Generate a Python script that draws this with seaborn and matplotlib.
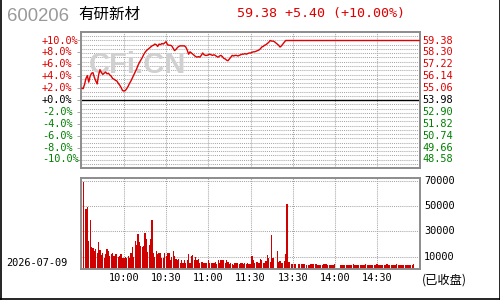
import numpy as np
import pandas as pd
import matplotlib
matplotlib.use("Agg")
import matplotlib.pyplot as plt
import matplotlib.transforms as mtransforms
from matplotlib.lines import Line2D
import seaborn as sns

# ---------------- data ----------------
code = "600206"
name = "有研新材"
price_text = "59.38 +5.40 (+10.00%)"
date_text = "2026-07-09"
status_text = "(已收盘)"

pct_ticks = [10, 8, 6, 4, 2, 0, -2, -4, -6, -8, -10]
pct_labels = ["+10.0%", "+8.0%", "+6.0%", "+4.0%", "+2.0%", "+0.0%",
              "-2.0%", "-4.0%", "-6.0%", "-8.0%", "-10.0%"]
price_labels = ["59.38", "58.30", "57.22", "56.14", "55.06", "53.98",
                "52.90", "51.82", "50.74", "49.66", "48.58"]
vol_ticks = [10000, 30000, 50000, 70000]
vol_labels = ["10000", "30000", "50000", "70000"]
time_ticks = [30, 60, 90, 120, 150, 180, 210]
time_labels = ["10:00", "10:30", "11:00", "11:30", "13:30", "14:00", "14:30"]

# percent change vs previous close, one value per minute (0 = 9:30 ... 240 = 15:00)
pct_change = [
    2.0, 1.9, 2.6, 3.6, 4.1, 3.0, 4.0, 4.5, 4.6, 3.8,
    3.2, 2.7, 4.2, 5.1, 4.6, 4.3, 4.5, 4.7, 4.4, 4.5,
    4.2, 4.0, 3.6, 3.5, 3.3, 3.2, 2.8, 2.5, 2.1, 1.6,
    1.5, 1.6, 1.9, 2.3, 2.8, 3.2, 3.7, 4.2, 4.7, 5.2,
    5.8, 6.3, 6.7, 7.1, 7.6, 8.0, 8.3, 8.5, 8.7, 8.9,
    9.1, 9.2, 9.4, 9.3, 9.0, 9.4, 9.3, 9.5, 9.4, 9.6,
    9.8, 9.3, 9.2, 9.2, 9.1, 8.7, 8.3, 8.5, 8.8, 9.0,
    9.1, 9.1, 9.1, 9.1, 8.9, 8.4, 7.7, 8.1, 7.9, 7.7,
    7.5, 7.3, 7.2, 7.3, 7.2, 7.5, 7.9, 7.6, 7.5, 7.5,
    7.6, 7.7, 7.6, 7.5, 7.6, 7.5, 7.3, 7.2, 7.4, 7.5,
    7.3, 7.0, 6.9, 6.7, 6.6, 6.9, 7.2, 7.5, 7.4, 7.5,
    7.5, 7.4, 7.5, 7.6, 7.7, 7.7, 7.8, 7.7, 7.8, 7.9,
    7.9, 8.0, 8.1, 8.1, 8.2, 8.3, 8.4, 8.6, 8.9, 9.0,
    9.2, 9.3, 9.5, 9.7, 10.0, 9.9, 9.9, 9.8, 9.6, 9.4,
    9.2, 8.9, 9.1, 9.4, 9.7, 10.0, 10.0, 10.0, 10.0, 10.0,
    10.0, 10.0, 10.0, 10.0, 10.0, 10.0, 10.0, 10.0, 10.0, 10.0,
    10.0, 10.0, 10.0, 10.0, 10.0, 10.0, 10.0, 10.0, 10.0, 10.0,
    10.0, 10.0, 10.0, 10.0, 10.0, 10.0, 10.0, 10.0, 10.0, 10.0,
    10.0, 10.0, 10.0, 10.0, 10.0, 10.0, 10.0, 10.0, 10.0, 10.0,
    10.0, 10.0, 10.0, 10.0, 10.0, 10.0, 10.0, 10.0, 10.0, 10.0,
    10.0, 10.0, 10.0, 10.0, 10.0, 10.0, 10.0, 10.0, 10.0, 10.0,
    10.0, 10.0, 10.0, 10.0, 10.0, 10.0, 10.0, 10.0, 10.0, 10.0,
    10.0, 10.0, 10.0, 10.0, 10.0, 10.0, 10.0, 10.0, 10.0, 10.0,
    10.0, 10.0, 10.0, 10.0, 10.0, 10.0, 10.0, 10.0, 10.0, 10.0,
    10.0,
]

volume = [
    13900, 68800, 0, 47500, 49500, 22600, 39000, 17400, 16600, 14700,
    15800, 12700, 21800, 15300, 11300, 12700, 9200, 12100, 16100, 14700,
    10500, 12100, 12700, 10800, 12100, 12100, 10000, 10800, 12100, 9200,
    8700, 10000, 9200, 10500, 9200, 13100, 17400, 9500, 22600, 19200,
    27900, 21600, 18400, 17900, 18400, 28500, 24000, 13500, 19200, 24000,
    39000, 12700, 9500, 14500, 12100, 12700, 12700, 8700, 8700, 12700,
    10500, 12700, 12700, 7400, 9500, 14500, 10500, 7900, 7400, 7900,
    5200, 7700, 5200, 7700, 5200, 7700, 12100, 5200, 10500, 11300,
    7400, 9500, 7400, 7900, 4700, 6000, 6000, 5200, 4700, 5200,
    7400, 4700, 4700, 5200, 5200, 6000, 4000, 7400, 5200, 7400,
    7400, 7400, 5200, 7400, 6000, 4000, 5200, 4000, 3400, 4700,
    4700, 4700, 4000, 4700, 5200, 4000, 4700, 4000, 4700, 4000,
    4000, 10500, 7400, 5200, 5500, 6000, 5200, 7900, 7700, 4700,
    4700, 6600, 11300, 8700, 6000, 27100, 8700, 0, 0, 14500,
    6000, 6600, 5200, 4700, 6600, 12100, 51700, 5500, 5500, 4000,
    4000, 4000, 4000, 0, 4000, 4500, 4000, 4000, 4000, 0,
    3500, 3500, 3500, 4500, 4000, 4000, 4000, 4500, 3500, 3500,
    3500, 3500, 4500, 4000, 4000, 3500, 3500, 3500, 3500, 3500,
    4500, 0, 0, 0, 3500, 3500, 3500, 3500, 3500, 3500,
    3500, 3500, 3500, 4500, 3500, 3500, 3500, 3500, 3500, 3500,
    3500, 3500, 4500, 3500, 3500, 3500, 3500, 3500, 3500, 3500,
    4500, 3500, 3500, 3500, 3500, 3500, 3500, 4500, 3500, 3500,
    3500, 3500, 3500, 3500, 4500, 3500, 3500, 3500, 3500, 3500,
    3500, 3500, 3500, 3500, 3500, 3500, 4500, 0, 0, 0,
    0,
]

minutes = list(range(len(pct_change)))

# ---------------- style ----------------
sns.set_theme(style="white")
plt.rcParams["font.family"] = ["DejaVu Sans Mono", "Noto Sans CJK SC"]

RED = "#e00000"
GREEN = "#008000"
GRID = "#a8a8a8"
SPINE = "#8c8c8c"

fig = plt.figure(figsize=(5, 3), dpi=100)
fig.patch.set_facecolor("white")

W, H = 500.0, 300.0
def fx(px):
    return px / W
def fy(py):
    return 1 - py / H

ax1 = fig.add_axes([fx(81), fy(168), (420 - 81) / W, (168 - 32) / H])
ax2 = fig.add_axes([fx(81), fy(269.3), (420 - 81) / W, (269.3 - 178.3) / H])

xlim = (-0.5, 240.5)
ymax = 80 / 7.0

# ---------- upper panel: price line ----------
for k in range(-15, 16):
    if k != 0:
        ax1.axhline(k * 5 / 7.0, color=GRID, lw=0.75, ls=(0, (1, 1)), zorder=0.6)
for t in time_ticks:
    ax1.axvline(t, color=GRID, lw=0.75, ls=(0, (1, 1)), zorder=0.6)
ax1.axhline(0, color="black", lw=1.0, zorder=1.5)

ax1.text(fx(137), fy(65), "CFi.CN", transform=fig.transFigure, ha="center",
         va="center", fontsize=21, fontweight="bold", family="Liberation Sans",
         color="#d0d0d0", zorder=0.7)

df_price = pd.DataFrame({"minute": minutes, "pct": pct_change})
sns.lineplot(data=df_price, x="minute", y="pct", ax=ax1, color=RED,
             linewidth=1.0, zorder=3)

ax1.set_xlim(*xlim)
ax1.set_ylim(-ymax, ymax)
ax1.set_xlabel("")
ax1.set_ylabel("")
ax1.set_xticks([])
ax1.set_yticks(pct_ticks)
ax1.set_yticklabels([])
ax1.tick_params(axis="y", length=3.2, width=0.7, color=GRID, left=True)

tl = mtransforms.blended_transform_factory(fig.transFigure, ax1.transData)
for v, lab, pl in zip(pct_ticks, pct_labels, price_labels):
    c = RED if v > 0 else (GREEN if v < 0 else "black")
    ax1.text(fx(42), v, lab, transform=tl, ha="left", va="center",
             fontsize=7.4, color=c, clip_on=False)
    ax1.text(fx(422), v, pl, transform=tl, ha="left", va="center",
             fontsize=7.4, color=c, clip_on=False)

# ---------- lower panel: volume ----------
for v in vol_ticks:
    ax2.axhline(v, color=GRID, lw=0.75, ls=(0, (1, 1)), zorder=0.6)
for t in time_ticks:
    ax2.axvline(t, color=GRID, lw=0.75, ls=(0, (1, 1)), zorder=0.6)

df_vol = pd.DataFrame({"minute": minutes, "volume": volume})
sns.barplot(data=df_vol, x="minute", y="volume", ax=ax2, native_scale=True,
            color="#d00000", saturation=1, width=0.85, linewidth=0, zorder=2)

ax2.set_xlim(*xlim)
ax2.set_ylim(0, 72000)
ax2.set_xlabel("")
ax2.set_ylabel("")
ax2.set_yticks([])
ax2.set_xticks([])

tv = mtransforms.blended_transform_factory(fig.transFigure, ax2.transData)
for v, lab in zip(vol_ticks, vol_labels):
    ax2.text(fx(424), v, lab, transform=tv, ha="left", va="center",
             fontsize=7.4, color="black", clip_on=False)

tt = mtransforms.blended_transform_factory(ax2.transData, fig.transFigure)
for t, lab in zip(time_ticks, time_labels):
    ax2.text(t, fy(278), lab, transform=tt, ha="center", va="center",
             fontsize=7.4, color="black", clip_on=False)

for ax in (ax1, ax2):
    for s in ax.spines.values():
        s.set_color(SPINE)
        s.set_linewidth(1.4)
        s.set_visible(True)
    ax.set_facecolor("white")

# ---------- header / footer texts ----------
fig.text(fx(7), fy(16.5), code, ha="left", va="center", fontsize=13.3,
         color="#999999", family="Liberation Sans")
fig.text(fx(78), fy(14), name, ha="left", va="center", fontsize=11.2,
         color="black", family="Noto Sans CJK SC")
fig.text(fx(237), fy(14), price_text, ha="left", va="center", fontsize=9.6,
         color=RED)
fig.text(fx(6), fy(262.5), date_text, ha="left", va="center", fontsize=7.4,
         color="black")
fig.text(fx(422), fy(280), status_text, ha="left", va="center", fontsize=8.8,
         color="black", family="Noto Sans CJK SC")

# outer frame
fig.add_artist(Line2D([0.001, 0.001], [0, 1], transform=fig.transFigure,
                      color="black", lw=1.2))
fig.add_artist(Line2D([0.999, 0.999], [0, 1], transform=fig.transFigure,
                      color="black", lw=1.2))
fig.add_artist(Line2D([0, 1], [0.003, 0.003], transform=fig.transFigure,
                      color="black", lw=1.2))

fig.savefig("out.png", dpi=100)
